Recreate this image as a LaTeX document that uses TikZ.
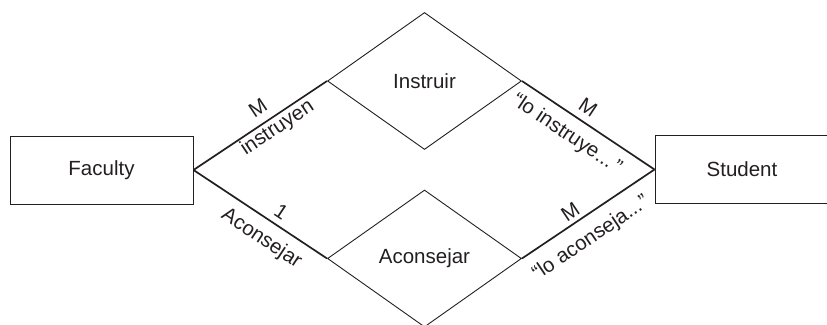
\documentclass[tikz,border=0pt]{standalone}
\usepackage{fontspec}
\setmainfont{Liberation Sans}
\usetikzlibrary{shapes.geometric}
\definecolor{ink}{HTML}{231F20}
\tikzset{
  ent/.style={draw=ink, line width=1pt, inner sep=0pt},
  rel/.style={draw=ink, diamond, line width=0.9pt, inner sep=0pt, minimum width=194pt, minimum height=137pt, aspect=1.4},
  conn/.style={draw=ink, line width=1.7pt},
  lab/.style={sloped, anchor=base, inner sep=0pt, text=ink}
}
\begin{document}
\begin{tikzpicture}[x=1pt,y=-1pt, font=\fontsize{20.5}{24}\selectfont, text=ink]
\useasboundingbox (0,0) rectangle (827,324);
\node[ent, minimum width=183pt, minimum height=68pt] (fac) at (101.5,170) {Faculty};
\node[ent, minimum width=174pt, minimum height=67.5pt] (stu) at (742,169.5) {Student};
\node[rel] (d1) at (424.5,81) {Instruir};
\node[rel] (d2) at (424.5,258.5) {Aconsejar};
\draw[conn] (fac.east) -- node[lab, pos=.547, yshift=8.5pt] {M} node[lab, pos=.58, yshift=-17pt] {instruyen} (d1.west);
\draw[conn] (d1.east) -- node[lab, pos=.436, yshift=8pt] {M} node[lab, pos=.42, yshift=-25pt] {“lo instruye...\kern3pt”} (stu.west);
\draw[conn] (fac.east) -- node[lab, pos=.602, yshift=6.5pt] {1} node[lab, pos=.59, yshift=-25pt] {Aconsejar} (d2.west);
\draw[conn] (d2.east) -- node[lab, pos=.415, yshift=5pt] {M} node[lab, pos=.43, yshift=-27pt] {“lo aconseja...\kern1pt”} (stu.west);
\end{tikzpicture}
\end{document}
